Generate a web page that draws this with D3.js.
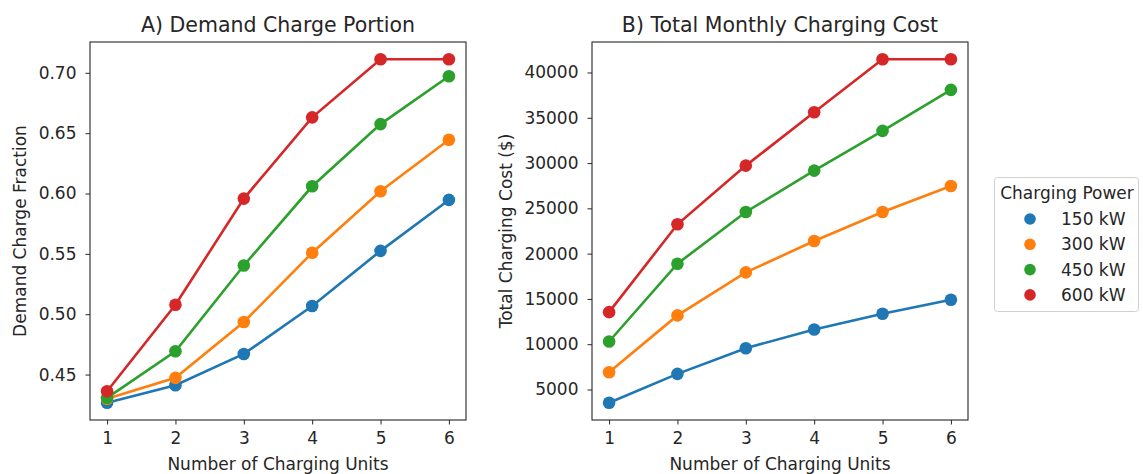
<!DOCTYPE html>
<html>
<head>
<meta charset="utf-8">
<script src="https://cdn.jsdelivr.net/npm/d3@7"></script>
<style>
  body { margin: 0; background: #fff; }
  text { font-family: "DejaVu Sans", sans-serif; fill: #262626; }
</style>
</head>
<body>
<div id="chart"></div>
<script>
// Categories and tick labels
const units = [1, 2, 3, 4, 5, 6];
const powers = ["150 kW", "300 kW", "450 kW", "600 kW"];
const colors = ["#1f77b4", "#ff7f0e", "#2ca02c", "#d62728"];

// Demand charge fraction, one array per charging power
const frac150 = [0.4266, 0.4412, 0.4671, 0.5068, 0.5525, 0.5947];
const frac300 = [0.4299, 0.4473, 0.4935, 0.5509, 0.6019, 0.6446];
const frac450 = [0.4307, 0.4693, 0.5404, 0.6060, 0.6575, 0.6972];
const frac600 = [0.4362, 0.5079, 0.5958, 0.6631, 0.7113, 0.7113];

// Total monthly charging cost ($)
const cost150 = [3530, 6730, 9560, 11630, 13370, 14910];
const cost300 = [6910, 13180, 17930, 21390, 24600, 27470];
const cost450 = [10300, 18890, 24600, 29170, 33550, 38080];
const cost600 = [13540, 23240, 29720, 35610, 41470, 41470];

const fracTicks = [0.45, 0.50, 0.55, 0.60, 0.65, 0.70];
const costTicks = [5000, 10000, 15000, 20000, 25000, 30000, 35000, 40000];

const width = 1143, height = 474;
const svg = d3.select("#chart").append("svg")
    .attr("width", width)
    .attr("height", height);

// Pad a domain 5% on each side, like matplotlib autoscaling
function padded(lo, hi) {
    const p = (hi - lo) * 0.05;
    return [lo - p, hi + p];
}

function panel(opts) {
    const { left, right, top, bottom, series, ticks, fmt, title, ylabel } = opts;

    const x = d3.scaleLinear()
        .domain(padded(d3.min(units), d3.max(units)))
        .range([left, right]);
    const all = series.flat();
    const y = d3.scaleLinear()
        .domain(padded(d3.min(all), d3.max(all)))
        .range([bottom, top]);

    const g = svg.append("g");

    // axes
    const xAxis = g.append("g")
        .attr("transform", `translate(0,${bottom})`)
        .call(d3.axisBottom(x).tickValues(units).tickFormat(d3.format("d"))
            .tickSize(4.5).tickPadding(7).tickSizeOuter(0));
    const yAxis = g.append("g")
        .attr("transform", `translate(${left},0)`)
        .call(d3.axisLeft(y).tickValues(ticks).tickFormat(fmt)
            .tickSize(4.5).tickPadding(9).tickSizeOuter(0));
    [xAxis, yAxis].forEach(a => {
        a.select(".domain").remove();
        a.selectAll("line").attr("stroke", "#262626").attr("stroke-width", 1);
        a.selectAll("text").style("font-size", "17px")
            .style("font-family", "'DejaVu Sans', sans-serif").attr("fill", "#262626");
    });

    // lines and markers
    const line = d3.line()
        .x((d, i) => x(units[i]))
        .y(d => y(d));
    series.forEach((vals, k) => {
        g.append("path")
            .datum(vals)
            .attr("fill", "none")
            .attr("stroke", colors[k])
            .attr("stroke-width", 2.6)
            .attr("d", line);
        g.selectAll(null)
            .data(vals)
            .enter().append("circle")
            .attr("cx", (d, i) => x(units[i]))
            .attr("cy", d => y(d))
            .attr("r", 6.3)
            .attr("fill", colors[k]);
    });

    // frame
    g.append("rect")
        .attr("x", left).attr("y", top)
        .attr("width", right - left).attr("height", bottom - top)
        .attr("fill", "none")
        .attr("stroke", "#262626")
        .attr("stroke-width", 1.1);

    g.append("text")
        .attr("x", (left + right) / 2).attr("y", top - 10)
        .attr("text-anchor", "middle")
        .style("font-size", "20.5px")
        .text(title);

    g.append("text")
        .attr("x", (left + right) / 2).attr("y", 470)
        .attr("text-anchor", "middle")
        .style("font-size", "17px")
        .text("Number of Charging Units");

    g.append("text")
        .attr("transform", `translate(${opts.ylabelX},${(top + bottom) / 2}) rotate(-90)`)
        .attr("text-anchor", "middle")
        .style("font-size", "17px")
        .text(ylabel);
}

panel({
    left: 90, right: 466, top: 42, bottom: 420,
    series: [frac150, frac300, frac450, frac600],
    ticks: fracTicks, fmt: d3.format(".2f"),
    title: "A) Demand Charge Portion",
    ylabel: "Demand Charge Fraction", ylabelX: 26
});

panel({
    left: 592, right: 968, top: 42, bottom: 420,
    series: [cost150, cost300, cost450, cost600],
    ticks: costTicks, fmt: d3.format("d"),
    title: "B) Total Monthly Charging Cost",
    ylabel: "Total Charging Cost ($)", ylabelX: 512
});

// legend
const legend = svg.append("g");
legend.append("rect")
    .attr("x", 994.5).attr("y", 177.5)
    .attr("width", 144).attr("height", 134)
    .attr("rx", 3)
    .attr("fill", "#fff")
    .attr("stroke", "#d0d0d0");
legend.append("text")
    .attr("x", 1067).attr("y", 199)
    .attr("text-anchor", "middle")
    .style("font-size", "17px")
    .text("Charging Power");
powers.forEach((p, i) => {
    const cy = 219 + i * 25.3;
    legend.append("circle")
        .attr("cx", 1030).attr("cy", cy).attr("r", 5.8)
        .attr("fill", colors[i]);
    legend.append("text")
        .attr("x", 1061).attr("y", cy + 6)
        .style("font-size", "17px")
        .text(p);
});
</script>
</body>
</html>
